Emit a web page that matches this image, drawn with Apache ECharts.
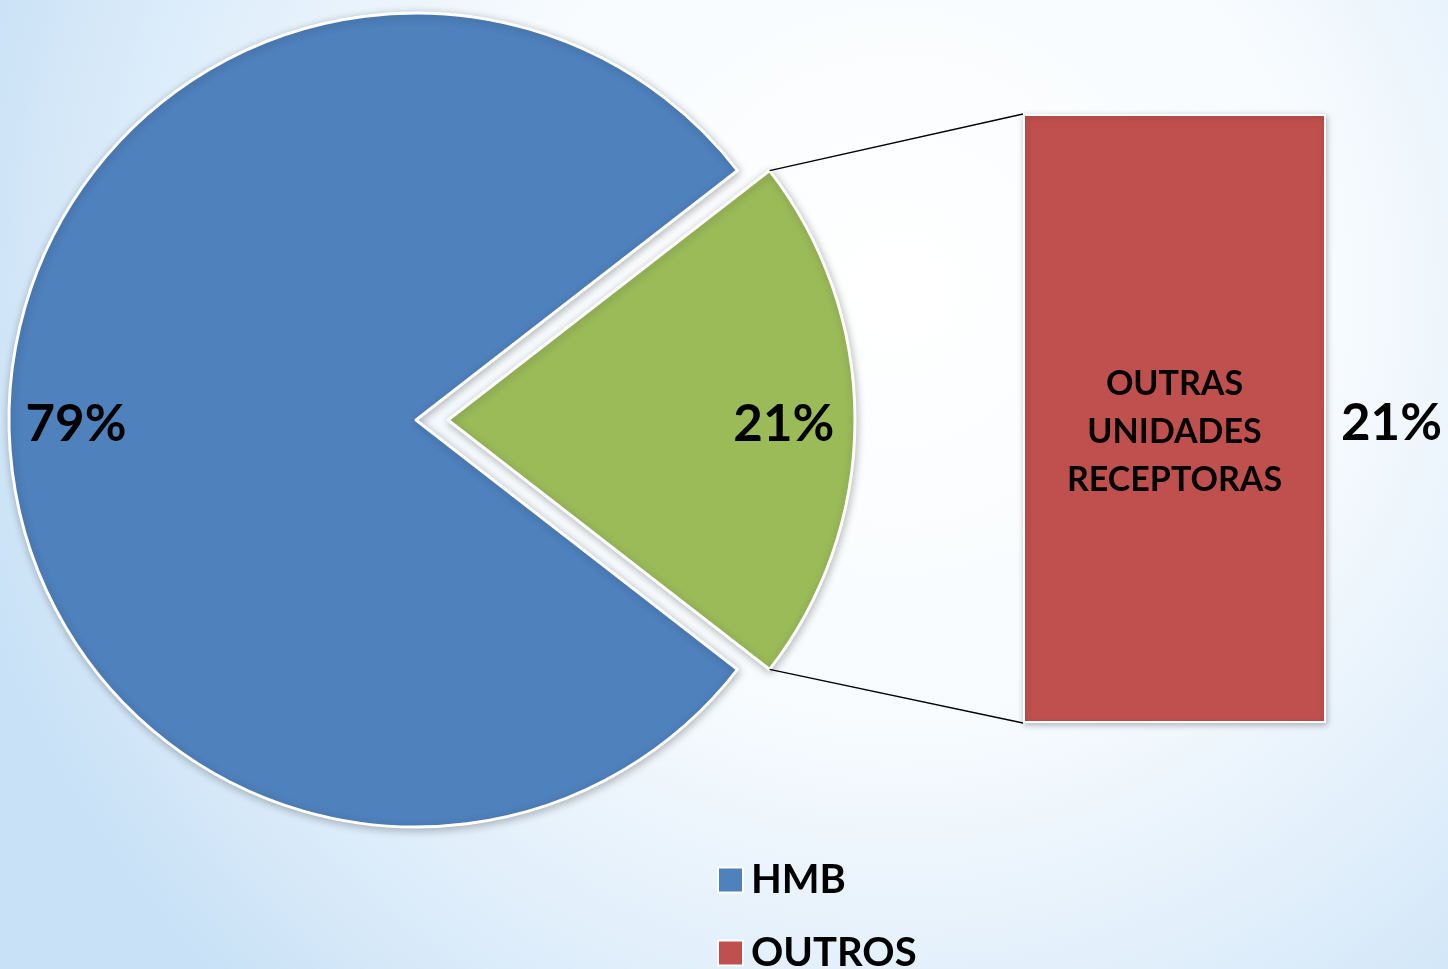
<!DOCTYPE html>
<html>
<head>
<meta charset="utf-8">
<script src="https://cdn.jsdelivr.net/npm/echarts@6/dist/echarts.min.js"></script>
<style>
  html, body { margin: 0; padding: 0; }
  #main { width: 1448px; height: 969px; }
</style>
</head>
<body>
<div id="main"></div>
<script>
// pie slices: the small one is broken out into the bar
const sliceNames = ['OUTROS', 'HMB'];
const sliceValues = [21, 79];
const sliceColors = ['#9bbb59', '#4f81bd'];

// bar of the broken-out slice
const barCategories = ['OUTRAS UNIDADES RECEPTORAS'];
const barValues = [21];
const barColor = '#c0504d';

const legendNames = ['HMB', 'OUTROS'];
const legendColors = ['#4f81bd', '#c0504d'];

const font = 'Lato, "Open Sans", sans-serif';
const pieCenter = [416, 420];
const pieR = 407;
const explode = 32;
const total = sliceValues.reduce((a, b) => a + b, 0);
const startAngle = sliceValues[0] / total * 360 / 2;

const chartDom = document.getElementById('main');
const myChart = echarts.init(chartDom);

const pieData = sliceNames.map((n, i) => ({
  name: n,
  value: sliceValues[i],
  selected: i === 0,
  itemStyle: { color: sliceColors[i] }
}));

// one legend box per entry, stacked, the last one runs off the bottom edge
const legends = legendNames.map((n, i) => ({
  orient: 'vertical',
  left: 712,
  top: 855 + i * 73,
  itemWidth: 25,
  itemHeight: 25,
  selectedMode: false,
  icon: 'rect',
  textStyle: { fontFamily: font, fontWeight: 'bold', fontSize: 40, lineHeight: 40, color: '#000', padding: [0, 0, 0, 3] },
  data: [{ name: n, itemStyle: { color: legendColors[i] } }]
}));

const pctLabel = {
  show: true, position: 'inside',
  formatter: '{c}%',
  offset: [0, 5],
  fontFamily: font, fontWeight: 'bold', fontSize: 51, color: '#000'
};

let option = {
  backgroundColor: {
    type: 'radial', x: 0.62, y: 0.3, r: 1.0,
    colorStops: [
      { offset: 0, color: '#ffffff' },
      { offset: 0.45, color: '#f7fbfe' },
      { offset: 0.8, color: '#dcecfa' },
      { offset: 1, color: '#c8e1f6' }
    ]
  },
  animation: false,
  legend: legends,
  grid: { left: 1023, top: 114, width: 303, height: 609 },
  xAxis: { type: 'category', data: barCategories, show: false },
  yAxis: { type: 'value', min: 0, max: 21, show: false },
  series: [
    {
      type: 'pie',
      name: 'pie',
      center: pieCenter,
      radius: [0, pieR],
      startAngle: startAngle,
      selectedMode: 'single',
      selectedOffset: explode,
      silent: true,
      label: { show: false },
      labelLine: { show: false },
      emphasis: { disabled: true },
      itemStyle: {
        borderColor: '#ffffff', borderWidth: 3,
        shadowBlur: 8, shadowColor: 'rgba(0,0,0,0.25)', shadowOffsetX: 1, shadowOffsetY: 2
      },
      data: pieData
    },
    {
      // transparent ring only used to place the percent labels
      type: 'pie',
      name: 'pieLabels',
      center: pieCenter,
      radius: [297, 377],
      startAngle: startAngle,
      selectedMode: 'single',
      selectedOffset: explode,
      silent: true,
      itemStyle: { color: 'rgba(0,0,0,0)' },
      labelLine: { show: false },
      label: pctLabel,
      select: {
        label: Object.assign({}, pctLabel, { offset: [explode - 2, 5] }),
        itemStyle: { color: 'rgba(0,0,0,0)' }
      },
      emphasis: { disabled: true },
      data: pieData.map(d => ({ name: d.name, value: d.value, selected: d.selected }))
    },
    {
      type: 'bar',
      name: 'OUTROS',
      barWidth: '100%',
      silent: true,
      data: barValues,
      itemStyle: {
        color: barColor, borderColor: '#ffffff', borderWidth: 2,
        shadowBlur: 6, shadowColor: 'rgba(0,0,0,0.25)', shadowOffsetX: 1, shadowOffsetY: 2
      },
      label: {
        show: true, position: 'inside',
        formatter: p => p.name.split(' ').join('\n'),
        fontFamily: font, fontWeight: 'bold', fontSize: 34, lineHeight: 48, color: '#000',
        offset: [0, 14]
      }
    },
    {
      type: 'bar',
      name: 'barLabel',
      barWidth: '100%',
      barGap: '-100%',
      silent: true,
      data: barValues,
      itemStyle: { color: 'rgba(0,0,0,0)' },
      label: {
        show: true, position: 'right', distance: 15,
        formatter: '{c}%',
        offset: [0, 5],
        fontFamily: font, fontWeight: 'bold', fontSize: 51, color: '#000'
      }
    }
  ]
};
myChart.setOption(option);

// connector lines from the exploded slice edge to the bar corners
const a = startAngle * Math.PI / 180;
const sx = pieCenter[0] + explode + pieR * Math.cos(a);
const syTop = pieCenter[1] - pieR * Math.sin(a);
const syBot = pieCenter[1] + pieR * Math.sin(a);
const barTop = myChart.convertToPixel({ gridIndex: 0 }, [0, barValues[0]]);
const barBot = myChart.convertToPixel({ gridIndex: 0 }, [0, 0]);
const barLeft = option.grid.left;
myChart.setOption({
  graphic: [
    { type: 'line', shape: { x1: sx, y1: syTop, x2: barLeft, y2: barTop[1] }, style: { stroke: '#000', lineWidth: 1.3 }, z: 10 },
    { type: 'line', shape: { x1: sx, y1: syBot, x2: barLeft, y2: barBot[1] }, style: { stroke: '#000', lineWidth: 1.3 }, z: 10 }
  ]
});
</script>
</body>
</html>
